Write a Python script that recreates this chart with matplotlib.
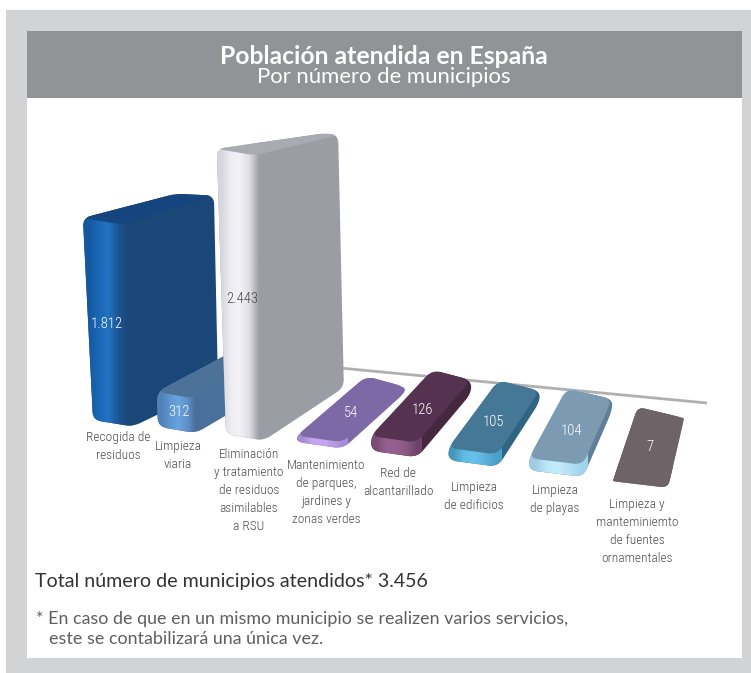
import numpy as np
import matplotlib
matplotlib.use('Agg')
import matplotlib.pyplot as plt
from matplotlib.path import Path
from matplotlib.patches import PathPatch, Rectangle
from matplotlib.colors import to_rgb

# data
categories = ['Recogida de\nresiduos', 'Limpieza\nviaria',
              'Eliminación\ny tratamiento\nde residuos\nasimilables\na RSU',
              'Mantenimiento\nde parques,\njardines y\nzonas verdes',
              'Red de\nalcantarillado', 'Limpieza\nde edificios',
              'Limpieza\nde playas',
              'Limpieza y\nmanteminiemto\nde fuentes\nornamentales']
values = [1812, 312, 2443, 54, 126, 105, 104, 7]
value_labels = ['1.812', '312', '2.443', '54', '126', '105', '104', '7']

# colours: top, side, front stops
tops = ['#16447e', '#4d7299', '#a9abb3', '#7d69a5', '#553350', '#457796', '#7c9ab2', '#6e6468']
sides = ['#1b4778', '#4a6f9a', '#9a9da4', '#7d69a5', '#45283f', '#2f6482', '#5f7f98', '#6e6468']
fronts = [['#14589f', '#1a66b4', '#2273c4', '#1c5696', '#1b4778'],
          ['#4f82b8', '#5f96d0', '#68a2e0', '#5f92cc', '#4a6f9a'],
          ['#d6d7de', '#eeeef2', '#f2f2f6', '#dcdde2', '#9a9da4'],
          ['#a58ad2', '#c2a6ec', '#c6a8f0', '#b99ce2', '#a88cd8'],
          ['#7a4c72', '#95608f', '#95608f', '#8a5684', '#6e4468'],
          ['#4796ba', '#62bde6', '#66c2ea', '#5cb2dc', '#4ca0c8'],
          ['#a0cce4', '#bde8fa', '#c2ecfc', '#b4e0f4', '#a0d4ec'],
          ['#6e6468', '#6e6468', '#6e6468', '#6e6468', '#6e6468']]

# geometry of the perspective view
widths = [40, 38, 38, 46, 46, 49, 54, 55]
depth_dx = [85, 85, 80, 62, 54, 42, 29, 16]
depth_dy = [-41, -50, -53, -56, -64, -65, -67, -69]
back_width = [0.95, 0.84, 0.35, 0.84, 0.84, 0.84, 0.84, 0.84]
back_height = [0.94, 0.9, 0.885, 0.9, 0.9, 0.9, 0.9, 0.9]
lean = [0.05, 0.03, 0.032, 0.03, 0.03, 0.03, 0.03, 0.03]
persp = [0.955, 0.95, 1, 1, 1, 1, 1, 1]
radius = [8, 9, 8, 9, 9, 9, 9, 7]
label_pos = [(118, 431), (178, 440), (249, 448), (326, 459), (398, 467), (474, 481), (555, 484), (637, 498)]
value_pos = [(107, 324), (179, 412), (242, 299), (351, 413), (422, 410), (494, 422), (572, 431), (650, 447)]
K = 0.1167

LABEL_FONT = 'Roboto Condensed'
HEAD_FONT = ['Lato', 'DejaVu Sans']

fig = plt.figure(figsize=(7.51, 6.73), dpi=100)
ax = fig.add_axes([0, 0, 1, 1])
ax.set_xlim(0, 751)
ax.set_ylim(673, 0)
ax.axis('off')


def rounded(points, r):
    # closed path with the corners cut by a curve
    pts = [np.array(p, dtype=float) for p in points]
    verts, codes = [], []
    n = len(pts)
    for j in range(n):
        p, prev, nxt = pts[j], pts[j - 1], pts[(j + 1) % n]
        a = p + (prev - p) * min(r / np.linalg.norm(prev - p), 0.5)
        b = p + (nxt - p) * min(r / np.linalg.norm(nxt - p), 0.5)
        verts.append(a)
        codes.append(Path.MOVETO if j == 0 else Path.LINETO)
        verts += [p, b]
        codes += [Path.CURVE3, Path.CURVE3]
    verts.append(verts[0])
    codes.append(Path.CLOSEPOLY)
    return Path(verts, codes)


def draw_bar(i, z):
    x = 93 + 63.3 * i + 1.57 * i ** 2
    y = 420 + 6.3 * i + 0.35 * i ** 2
    w = widths[i]
    h = values[i] * K * persp[i]
    fl = np.array([x, y])
    fr = np.array([x + w, y + 6.5])
    br = fr + [depth_dx[i], depth_dy[i]]
    bl = br + [-back_width[i] * w, -11]
    up = np.array([-lean[i] * h, -h])
    up_back = np.array([-0.02 * h, -back_height[i] * h])
    # back edge of the top flattens out the higher the bar is
    bl_top = bl + up_back + [0, 9 * min(h / 150, 1)]
    r = radius[i]
    # whole outline in side colour, the lit front strip clipped to it, then the top
    outline = rounded([fl, fr, br, br + up_back, bl_top, fl + up], r)
    shape = PathPatch(outline, fc=sides[i], ec='none', zorder=z)
    ax.add_patch(shape)
    img = np.array([[to_rgb(c) for c in fronts[i]]])
    ys = outline.vertices[:, 1]
    im = ax.imshow(img, extent=(x + up[0], fr[0] + up[0] / 2 + 4, ys.max(), ys.min()), aspect='auto',
                   interpolation='bilinear', zorder=z + 0.1)
    im.set_clip_path(shape)
    ax.add_patch(PathPatch(rounded([fl + up, fr + up, br + up_back, bl_top], r),
                           fc=tops[i], ec='none', zorder=z + 0.2))


# panel and header
ax.add_patch(Rectangle((6, 10), 745, 663, fc='#d1d3d4', ec='none', zorder=0))
ax.add_patch(Rectangle((27, 98), 715, 560, fc='white', ec='none', zorder=0.5))
ax.add_patch(Rectangle((27, 31), 715, 67, fc='#929396', ec='none', zorder=0.6))
ax.text(384, 56, 'Población atendida en España', color='white', fontsize=17.8, fontweight='bold',
        family=HEAD_FONT, ha='center', va='center', zorder=5)
ax.text(384, 77, 'Por número de municipios', color='white', fontsize=15.9, family=HEAD_FONT,
        ha='center', va='center', zorder=5)

# floor line behind the bars
ax.plot([340, 707], [368, 403], color='#b0b0b0', lw=2, zorder=1, solid_capstyle='butt')

for i in range(len(values)):
    draw_bar(i, 2 + i)
    ax.text(value_pos[i][0], value_pos[i][1], value_labels[i], color='#4a4a4a' if i == 2 else 'white',
            fontsize=10.5, family=LABEL_FONT, fontweight=300, ha='center', va='center', zorder=2 + i + 0.5)
    ax.text(label_pos[i][0], label_pos[i][1], categories[i], color='#4d4d4d', fontsize=9.6,
            family=LABEL_FONT, fontweight=300, ha='center', va='top', linespacing=1.5, zorder=20)

ax.text(35, 582, 'Total número de municipios atendidos* 3.456', color='#333333', fontsize=14.1,
        family=HEAD_FONT, ha='left', va='center', zorder=5)
ax.text(36, 619, '* En caso de que en un mismo municipio se realizen varios servicios,', color='#5f5f5f',
        fontsize=12.9, family=HEAD_FONT, ha='left', va='center', zorder=5)
ax.text(49, 639, 'este se contabilizará una única vez.', color='#5f5f5f', fontsize=12.9,
        family=HEAD_FONT, ha='left', va='center', zorder=5)

ax.set_xlim(0, 751)
ax.set_ylim(673, 0)
fig.savefig('out.png', dpi=100)
